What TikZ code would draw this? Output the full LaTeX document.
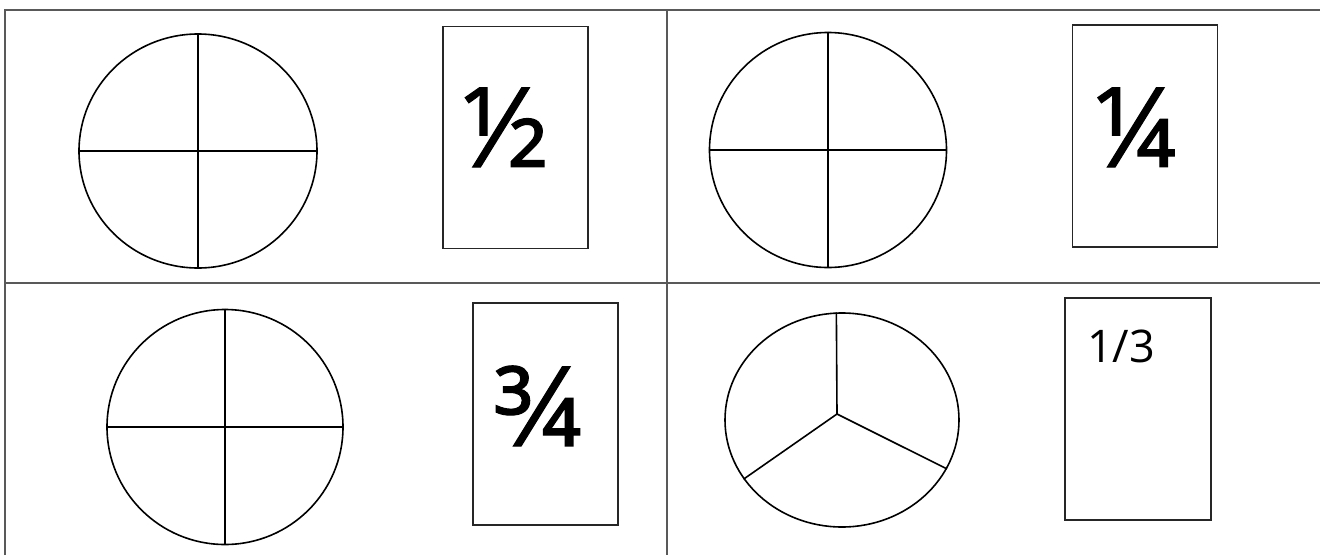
\documentclass[tikz,border=0pt]{standalone}
\usepackage{fontspec}
\setmainfont{Open Sans}
\newfontfamily\fracfont[FakeBold=1]{Open Sans}
\usetikzlibrary{shapes.geometric, positioning}
\tikzset{
  pie/.style={ellipse, draw=black, line width=1.6pt, inner sep=0pt,
              minimum width=237pt, minimum height=235pt},
  card/.style={rectangle, draw=black!85, line width=1.8pt, inner sep=0pt,
               minimum width=145pt, minimum height=222pt},
  cut/.style={draw=black, line width=1.6pt},
  gridline/.style={draw=black!65, line width=1.8pt},
  bigfrac/.style={font=\fracfont\fontsize{111}{113}\selectfont, inner sep=0pt, anchor=base},
  smallfrac/.style={font=\fontsize{45}{50}\selectfont, inner sep=0pt, anchor=base west},
}

\begin{document}
\begin{tikzpicture}[x=1pt, y=-1pt]
  \useasboundingbox (0,0) rectangle (1320,555);

  % table
  \coordinate (topleft) at (5,10);
  \coordinate (topright) at (1320,10);
  \coordinate (botleft) at (5,555);
  \coordinate (midtop) at (667,10);
  \coordinate (midbot) at (667,555);
  \coordinate (rowleft) at (5,283);
  \coordinate (rowright) at (1320,283);
  \draw[gridline] (botleft) -- (topleft) -- (topright);
  \draw[gridline] (midtop) -- (midbot);
  \draw[gridline] (rowleft) -- (rowright);

  % circles
  \node[pie, minimum width=238pt, minimum height=234pt] (half) at (198,151) {};
  \node[pie] (quarter) at (828,150) {};
  \node[pie, minimum width=236pt] (threeq) at (225,427) {};
  \node[pie, minimum width=234pt, minimum height=214pt] (third) at (842,420) {};

  \draw[cut] (half.north) -- (half.south);
  \draw[cut] (half.west) -- (half.east);
  \draw[cut] (quarter.north) -- (quarter.south);
  \draw[cut] (quarter.west) -- (quarter.east);
  \draw[cut] (threeq.north) -- (threeq.south);
  \draw[cut] (threeq.west) -- (threeq.east);

  \coordinate (hub) at (837,414);
  \draw[cut] (hub) -- (third.93);
  \draw[cut] (hub) -- (third.211);
  \draw[cut] (hub) -- (third.335);

  % cards
  \node[card] (halfcard) at (515.5,137.5) {};
  \node[card] (quartercard) at (1145,136) {};
  \node[card] (threeqcard) at (545.5,414) {};
  \node[card, minimum width=146pt] (thirdcard) at (1138,409) {};

  \node[bigfrac] (halflabel) at (506,167) {½};
  \node[bigfrac] (quarterlabel) at (1137,167) {¼};
  \node[bigfrac] (threeqlabel) at (538,446) {¾};
  \node[smallfrac] (thirdlabel) at (1087,362) {1/3};
\end{tikzpicture}
\end{document}
